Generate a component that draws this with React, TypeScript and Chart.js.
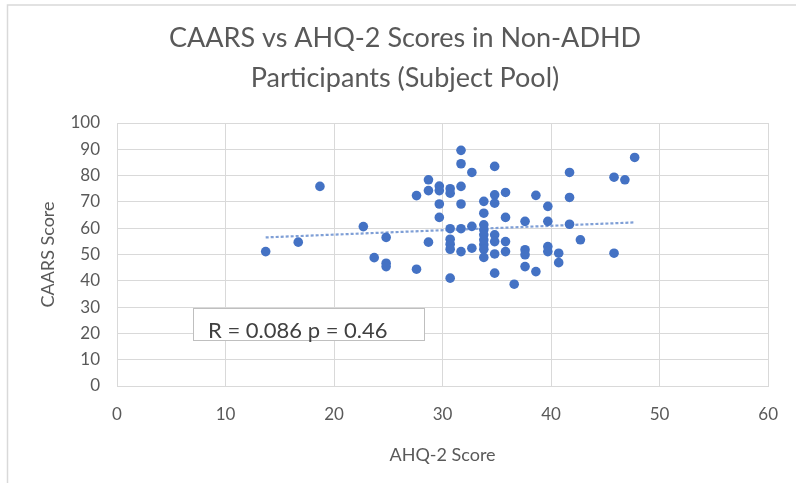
import React, { useEffect, useRef } from "react";
import { Chart, registerables } from "chart.js";

Chart.register(...registerables);

const chartTitle = ["CAARS vs AHQ-2 Scores in Non-ADHD", "Participants (Subject Pool)"];
const xAxisTitle = "AHQ-2 Score";
const yAxisTitle = "CAARS Score";
const statsLabel = "R = 0.086 p = 0.46";

const ahqScores = [
  13.7, 16.7, 18.7, 22.7, 23.7, 24.8, 24.8, 24.8, 27.6, 27.6,
  28.7, 28.7, 28.7, 29.7, 29.7, 29.7, 29.7,
  30.7, 30.7, 30.7, 30.7, 30.7, 30.7, 30.7,
  31.7, 31.7, 31.7, 31.7, 31.7, 31.7,
  32.7, 32.7, 32.7,
  33.8, 33.8, 33.8, 33.8, 33.8, 33.8, 33.8, 33.8, 33.8,
  34.8, 34.8, 34.8, 34.8, 34.8, 34.8, 34.8,
  35.8, 35.8, 35.8, 35.8,
  36.6,
  37.6, 37.6, 37.6, 37.6,
  38.6, 38.6,
  39.7, 39.7, 39.7, 39.7,
  40.7, 40.7,
  41.7, 41.7, 41.7,
  42.7, 45.8, 45.8, 46.8, 47.7,
];
const caarsScores = [
  51.1, 54.7, 75.9, 60.6, 48.8, 56.5, 46.7, 45.4, 72.4, 44.4,
  78.4, 74.3, 54.7, 76.0, 74.3, 69.2, 64.1,
  75.0, 73.3, 59.8, 55.8, 53.9, 52.0, 41.0,
  89.6, 84.5, 75.9, 69.2, 59.8, 51.1,
  81.2, 60.7, 52.4,
  70.2, 65.7, 61.3, 59.4, 57.5, 55.6, 53.7, 52.0, 48.9,
  83.5, 72.7, 69.5, 57.5, 54.9, 50.2, 42.9,
  73.6, 64.1, 54.9, 51.1,
  38.7,
  62.6, 51.8, 49.9, 45.4,
  72.5, 43.5,
  68.3, 62.6, 53.0, 51.1,
  50.5, 46.9,
  81.2, 71.7, 61.5,
  55.6, 79.4, 50.5, 78.4, 86.9,
];
const trendX = [13.7, 47.7];
const trendY = [56.5, 62.2];

const xMin = 0, xMax = 60, xStep = 10;
const yMin = 0, yMax = 100, yStep = 10;

const BLUE = "#4472C4";
const GRID = "#d9d9d9";
const TEXT = "#595959";
const FONT = "Lato, 'Open Sans', sans-serif";

const decorPlugin = {
  id: "decor",
  beforeDraw(chart: any) {
    const { ctx, width, height } = chart;
    ctx.save();
    ctx.fillStyle = "#ffffff";
    ctx.fillRect(0, 0, width, height);
    ctx.strokeStyle = GRID;
    ctx.lineWidth = 1.5;
    ctx.beginPath();
    ctx.moveTo(7.5, height);
    ctx.lineTo(7.5, 5);
    ctx.lineTo(width, 5);
    ctx.stroke();
    ctx.restore();
  },
  afterDraw(chart: any) {
    const { ctx } = chart;
    ctx.save();
    // title
    ctx.fillStyle = TEXT;
    ctx.font = `27px ${FONT}`;
    ctx.textAlign = "center";
    ctx.textBaseline = "middle";
    chartTitle.forEach((line, i) => ctx.fillText(line, 405, 38 + i * 40));
    // stats box
    ctx.fillStyle = "#ffffff";
    ctx.fillRect(193, 308, 231, 32);
    ctx.strokeStyle = "#bfbfbf";
    ctx.lineWidth = 1;
    ctx.strokeRect(193.5, 308.5, 231, 32);
    ctx.fillStyle = "#404040";
    ctx.font = `22px ${FONT}`;
    ctx.textAlign = "left";
    ctx.fillText(statsLabel, 208, 331);
    ctx.restore();
  },
};

export default function App() {
  const ref = useRef<HTMLCanvasElement | null>(null);
  useEffect(() => {
    document.body.style.margin = "0";
    const canvas = ref.current!;
    const points = ahqScores.map((x, i) => ({ x, y: caarsScores[i] }));
    const trend = trendX.map((x, i) => ({ x, y: trendY[i] }));
    const chart = new Chart(canvas, {
      type: "scatter",
      data: {
        datasets: [
          {
            label: "CAARS",
            data: points,
            backgroundColor: BLUE,
            borderColor: BLUE,
            pointRadius: 4.8,
            pointBorderWidth: 0,
          },
          {
            type: "line",
            label: "Trend",
            data: trend,
            borderColor: "#7f9fd6",
            borderWidth: 2.2,
            borderDash: [3, 2],
            pointRadius: 0,
            fill: false,
          },
        ],
      },
      options: {
        responsive: false,
        animation: false,
        events: [],
        layout: { padding: { left: 8, right: 25, top: 123, bottom: 0 } },
        plugins: {
          legend: { display: false },
          title: { display: false },
          tooltip: { enabled: false },
        },
        scales: {
          x: {
            type: "linear",
            min: xMin,
            max: xMax,
            ticks: {
              stepSize: xStep,
              padding: 18,
              color: TEXT,
              font: { family: FONT, size: 17 },
            },
            grid: { color: GRID, lineWidth: 1, drawTicks: false },
            border: { color: GRID },
            title: {
              display: true,
              text: xAxisTitle,
              color: TEXT,
              font: { family: FONT, size: 18 },
              padding: { top: 0, bottom: 17 },
            },
            afterFit: (s: any) => { s.height = 97; },
          },
          y: {
            type: "linear",
            min: yMin,
            max: yMax,
            ticks: {
              stepSize: yStep,
              padding: 17,
              color: TEXT,
              font: { family: FONT, size: 17 },
            },
            grid: { color: GRID, lineWidth: 1, drawTicks: false },
            border: { color: GRID },
            title: {
              display: true,
              text: yAxisTitle,
              color: TEXT,
              font: { family: FONT, size: 18 },
              padding: { top: 29, bottom: 0 },
            },
            afterFit: (s: any) => { s.width = 109; },
          },
        },
      },
      plugins: [decorPlugin],
    });
    return () => chart.destroy();
  }, []);
  return <canvas ref={ref} width={796} height={483} style={{ display: "block" }} />;
}
